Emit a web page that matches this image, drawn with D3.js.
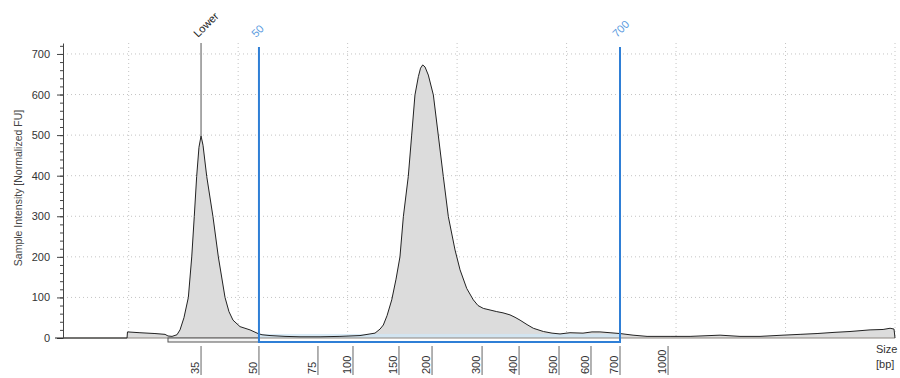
<!DOCTYPE html>
<html>
<head>
<meta charset="utf-8">
<script src="https://cdn.jsdelivr.net/npm/d3@7"></script>
<style>
  body { margin: 0; background: #fff; }
  #chart { width: 900px; height: 378px; }
  text { font-family: 'Liberation Sans', Arial, sans-serif; }
</style>
</head>
<body>
<div id="chart"></div>
<script>
// run position (arbitrary migration units) and normalized FU
let tracePos = [14.00, 19.85, 19.89, 21.03, 22.40, 23.32, 23.59, 23.96, 24.41, 24.69,
  25.05, 25.45, 25.76, 25.99, 26.21, 26.42, 26.61, 26.79, 27.13, 27.70,
  28.19, 28.80, 29.16, 29.53, 30.17, 31.08, 31.81, 32.18, 32.91, 34.28,
  35.65, 37.48, 39.30, 41.13, 42.04, 42.50, 42.96, 43.26, 43.60, 44.03,
  44.42, 44.78, 45.09, 45.54, 45.85, 46.15, 46.46, 46.66, 46.86, 47.07,
  47.37, 47.83, 48.28, 48.74, 49.20, 49.81, 50.27, 50.88, 51.48, 51.91,
  52.39, 53.01, 53.62, 54.19, 54.83, 55.29, 55.75, 56.39, 56.96, 57.88,
  58.67, 59.40, 60.31, 61.50, 62.32, 63.05, 63.97, 64.88, 66.07, 67.35,
  69.45, 71.28, 74.02, 75.84, 77.67, 79.77, 81.33, 82.88, 84.52, 85.89,
  87.72, 88.91, 89.55, 89.91, 90.00]
let traceFU = [0, 0, 15, 13, 11, 9, 5, 4, 8, 20,
  50, 100, 200, 299, 398, 470, 498, 475, 398, 299,
  200, 100, 65, 44, 28, 20, 11, 8, 6, 4,
  3, 3, 4, 6, 10, 12, 22, 32, 55, 94,
  145, 200, 299, 398, 500, 599, 644, 665, 673, 668,
  648, 599, 500, 398, 299, 217, 168, 122, 94, 80,
  73, 69, 65, 62, 57, 51, 44, 33, 24, 16,
  12, 10, 13, 12, 15, 15, 13, 11, 7, 4,
  4, 4, 7, 4, 4, 7, 9, 11, 14, 16,
  20, 21, 24, 22, 0]

// ladder sizes [bp] and where they sit on the run
let ladderBp = [35, 50, 75, 100, 150, 200, 300, 400, 500, 600, 700, 1000]
let ladderPos = [26.61, 31.90, 37.29, 40.49, 44.69, 47.71, 52.28, 55.66, 59.31, 62.23, 64.88, 69.27]

let gridPos = [20, 30, 40, 50, 60, 70, 80, 90]
let yMajor = [0, 100, 200, 300, 400, 500, 600, 700]

let markerName = 'Lower'
let markerPos = 26.61
let markerPeak = 498
let markerRegion = [23.59, 31.90]
let regionBp = [50, 700]

class Electropherogram {
  chart = {}
  constructor (divId) {
    this.divId = divId
    this.initChart()
  }

  initChart () {
    this.chart.padding = { left: 63, right: 5, top: 43, bottom: 40 }
    this.chart.width = 900
    this.chart.height = 378
    this.chart.svg = d3.select('#' + this.divId)
      .append('svg')
      .attr('width', this.chart.width)
      .attr('height', this.chart.height)
  }

  initAxis () {
    let p = this.chart.padding
    this.chart.xScale = d3.scaleLinear()
      .domain([14, 90])
      .range([p.left, this.chart.width - p.right])
    this.chart.yScale = d3.scaleLinear()
      .domain([0, 727])
      .range([this.chart.height - p.bottom, p.top])
    this.chart.bpScale = d3.scaleOrdinal().domain(ladderBp).range(ladderPos)
  }

  render () {
    this.initAxis()
    let svg = this.chart.svg
    let x = this.chart.xScale
    let y = this.chart.yScale
    let bp = this.chart.bpScale
    let x0 = x.range()[0]
    let x1 = x.range()[1]

    // dotted grid
    svg.append('g')
      .selectAll('line')
      .data(yMajor.slice(1))
      .enter()
      .append('line')
      .attr('x1', x0)
      .attr('x2', x1)
      .attr('y1', d => y(d))
      .attr('y2', d => y(d))
      .style('stroke', '#c4c4c4')
      .style('stroke-dasharray', '1,3')
    svg.append('g')
      .selectAll('line')
      .data(gridPos)
      .enter()
      .append('line')
      .attr('x1', d => x(d))
      .attr('x2', d => x(d))
      .attr('y1', y.range()[1])
      .attr('y2', y(0))
      .style('stroke', '#c4c4c4')
      .style('stroke-dasharray', '1,3')

    let trace = tracePos.map((d, i) => ({ pos: d, fu: traceFU[i] }))
    let area = d3.area()
      .x(d => x(d.pos))
      .y0(y(0))
      .y1(d => y(d.fu))
    let line = d3.line()
      .x(d => x(d.pos))
      .y(d => y(d.fu))

    svg.append('path')
      .datum(trace)
      .attr('d', area)
      .style('fill', '#dcdcdc')

    // light blue strip of the smear region
    svg.append('rect')
      .attr('x', x(bp(regionBp[0])))
      .attr('y', y(10))
      .attr('width', x(bp(regionBp[1])) - x(bp(regionBp[0])))
      .attr('height', y(0) - y(10))
      .style('fill', '#cfe6f5')
      .style('opacity', 0.8)

    svg.append('line')
      .attr('x1', x0)
      .attr('x2', x1)
      .attr('y1', y(0))
      .attr('y2', y(0))
      .style('stroke', '#8c8680')

    svg.append('path')
      .datum(trace)
      .attr('d', line)
      .style('fill', 'none')
      .style('stroke', '#222')
      .style('stroke-width', 1)

    // lower marker region box
    svg.append('rect')
      .attr('x', x(markerRegion[0]))
      .attr('y', y(0))
      .attr('width', x(markerRegion[1]) - x(markerRegion[0]))
      .attr('height', 4)
      .style('fill', '#f4f4f4')
      .style('stroke', '#555')
      .style('stroke-width', 1)

    // marker line + label
    svg.append('line')
      .attr('x1', x(markerPos))
      .attr('x2', x(markerPos))
      .attr('y1', y.range()[1])
      .attr('y2', y(markerPeak))
      .style('stroke', '#555')
    svg.append('text')
      .attr('transform', 'translate(' + (x(markerPos) - 3) + ',' + 38 + ') rotate(-45)')
      .text(markerName)
      .style('font-size', '11px')
      .style('fill', '#222')

    // x axis ticks (ladder)
    let ticks = svg.append('g')
      .selectAll('.tick')
      .data(ladderBp)
      .enter()
      .append('g')
      .attr('class', 'tick')
    ticks.append('line')
      .attr('x1', d => x(bp(d)))
      .attr('x2', d => x(bp(d)))
      .attr('y1', y(0) + 8)
      .attr('y2', this.chart.height - 3)
      .style('stroke', '#666')
    ticks.append('text')
      .attr('transform', d => 'translate(' + (x(bp(d)) - 2) + ',' + (this.chart.height - 4) + ') rotate(-90)')
      .text(d => d)
      .style('font-size', '11px')
      .style('fill', '#333')

    // analysis region bracket
    let rx0 = x(bp(regionBp[0]))
    let rx1 = x(bp(regionBp[1]))
    svg.append('path')
      .attr('d', 'M' + rx0 + ',' + 47 + 'V' + (y(0) + 4) + 'H' + rx1 + 'V' + 47)
      .style('fill', 'none')
      .style('stroke', '#2f7fd6')
      .style('stroke-width', 2)
    svg.append('g')
      .selectAll('text')
      .data(regionBp)
      .enter()
      .append('text')
      .attr('transform', d => 'translate(' + (x(bp(d)) - 3) + ',' + 38 + ') rotate(-45)')
      .text(d => d)
      .style('font-size', '11px')
      .style('fill', '#5b9be0')

    // y axis
    let yMinor = d3.axisLeft(y)
      .tickValues(d3.range(0, 721, 20))
      .tickSize(3)
      .tickSizeOuter(0)
      .tickFormat('')
    let yAxis = d3.axisLeft(y)
      .tickValues(yMajor)
      .tickSize(6)
      .tickSizeOuter(0)
    svg.append('g')
      .attr('transform', 'translate(' + x0 + ',0)')
      .call(yMinor)
      .call(g => g.selectAll('line').style('stroke', '#444'))
      .call(g => g.select('.domain').style('stroke', '#444'))
    svg.append('g')
      .attr('transform', 'translate(' + x0 + ',0)')
      .call(yAxis)
      .call(g => g.select('.domain').remove())
      .call(g => g.selectAll('line').style('stroke', '#444'))
      .call(g => g.selectAll('text')
        .attr('x', -13)
        .style('font-size', '11px')
        .style('font-family', "'Liberation Sans', Arial, sans-serif")
        .style('fill', '#333'))
    svg.append('line')
      .attr('x1', x0 - 8)
      .attr('x2', x0)
      .attr('y1', y(0))
      .attr('y2', y(0))
      .style('stroke', '#222')

    svg.append('text')
      .attr('transform', 'translate(22,' + 188 + ') rotate(-90)')
      .attr('text-anchor', 'middle')
      .text('Sample Intensity [Normalized FU]')
      .style('font-size', '10.5px')
      .style('fill', '#444')

    svg.append('text')
      .attr('x', 876)
      .attr('y', 353)
      .text('Size')
      .style('font-size', '11px')
      .style('fill', '#333')
    svg.append('text')
      .attr('x', 876)
      .attr('y', 368)
      .text('[bp]')
      .style('font-size', '11px')
      .style('fill', '#333')
  }
}

let chart = new Electropherogram('chart')
chart.render()
</script>
</body>
</html>
